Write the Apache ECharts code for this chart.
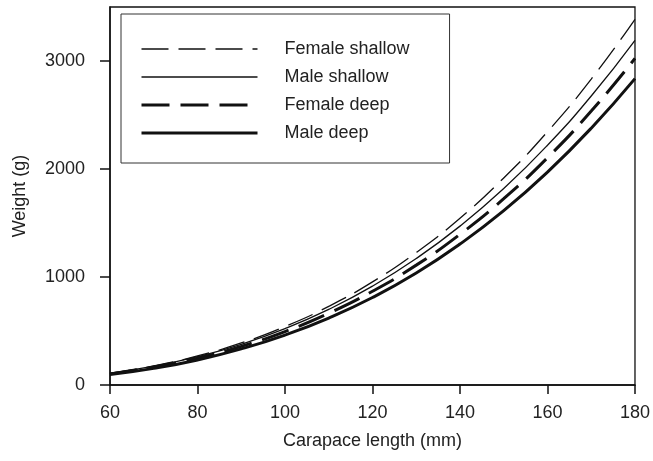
<!DOCTYPE html>
<html><head><meta charset="utf-8">
<script src="https://cdn.jsdelivr.net/npm/echarts@6/dist/echarts.min.js"></script>
<style>html,body{margin:0;padding:0;background:#fff}#c{width:653px;height:461px}</style>
</head><body><div id="c"></div>
<script>
const lengths = [60,70,80,90,100,110,120,130,140,150,160,170,180];
const femaleShallow = [110,177,269,389,541,728,955,1226,1545,1917,2345,2833,3386];
const maleShallow   = [108,174,262,377,522,700,915,1171,1471,1819,2220,2676,3192];
const femaleDeep    = [103,165,249,358,495,664,868,1110,1395,1725,2104,2536,3024];
const maleDeep      = [96,154,232,334,462,620,810,1037,1305,1614,1971,2378,2837];
const xTicks = [60,80,100,120,140,160,180];
const yTicks = [0,1000,2000,3000];
const seriesNames = ['Female shallow','Male shallow','Female deep','Male deep'];

const FONT = 'Liberation Sans, Arial, sans-serif';
const pairs = arr => lengths.map((x,i)=>[x,arr[i]]);
const styles = [
  {width:1.3, type:[27,10]},
  {width:1.3, type:'solid'},
  {width:3, type:[28,11]},
  {width:3, type:'solid'}
];
const dataSets = [femaleShallow, maleShallow, femaleDeep, maleDeep];

const chart = echarts.init(document.getElementById('c'), null, {renderer:'canvas'});
chart.setOption({
  animation:false,
  backgroundColor:'#fff',
  grid:{left:110, right:14, top:7, bottom:76, show:true, borderColor:'#111', borderWidth:1.3, backgroundColor:'transparent'},
  legend:{
    orient:'vertical', left:121, top:14,
    data: seriesNames.map((n,i)=>({
      name:n,
      itemStyle:{color:'transparent', borderColor:'transparent', borderWidth:0},
      lineStyle:{color:'#111', width:styles[i].width, type:styles[i].type, cap:'butt'}
    })),
    itemWidth:116, itemHeight:14, itemGap:10,
    padding:[26,40,21,19],
    borderColor:'#333', borderWidth:1,
    textStyle:{fontFamily:FONT, fontSize:18, color:'#222', padding:[0,0,0,22]},
    selectedMode:false
  },
  xAxis:{
    type:'value', min:60, max:180, interval:20,
    name:'Carapace length (mm)', nameLocation:'middle', nameGap:47,
    nameTextStyle:{fontFamily:FONT, fontSize:18, color:'#222'},
    axisLine:{show:true, lineStyle:{color:'#111', width:1.5}},
    axisTick:{show:true, length:9, lineStyle:{color:'#111', width:1.5}, customValues:xTicks},
    axisLabel:{fontFamily:FONT, fontSize:18, color:'#222', margin:19, customValues:xTicks, formatter:v=>String(v)},
    splitLine:{show:false}
  },
  yAxis:{
    type:'value', min:0, max:3500, interval:500,
    name:'Weight (g)', nameLocation:'middle', nameGap:81,
    nameTextStyle:{fontFamily:FONT, fontSize:18, color:'#222'},
    axisLine:{show:true, lineStyle:{color:'#111', width:1.5}},
    axisTick:{show:true, length:10, lineStyle:{color:'#111', width:1.5}, customValues:yTicks},
    axisLabel:{fontFamily:FONT, fontSize:18, color:'#222', margin:25, customValues:yTicks, formatter:v=>String(v)},
    splitLine:{show:false}
  },
  series: seriesNames.map((n,i)=>({
    name:n, type:'line', data:pairs(dataSets[i]), smooth:true,
    symbol:'none', showSymbol:false, clip:true,
    lineStyle:{color:'#111', width:styles[i].width, type:styles[i].type, cap:'butt'},
    itemStyle:{color:'#111'}
  }))
});
</script></body></html>
